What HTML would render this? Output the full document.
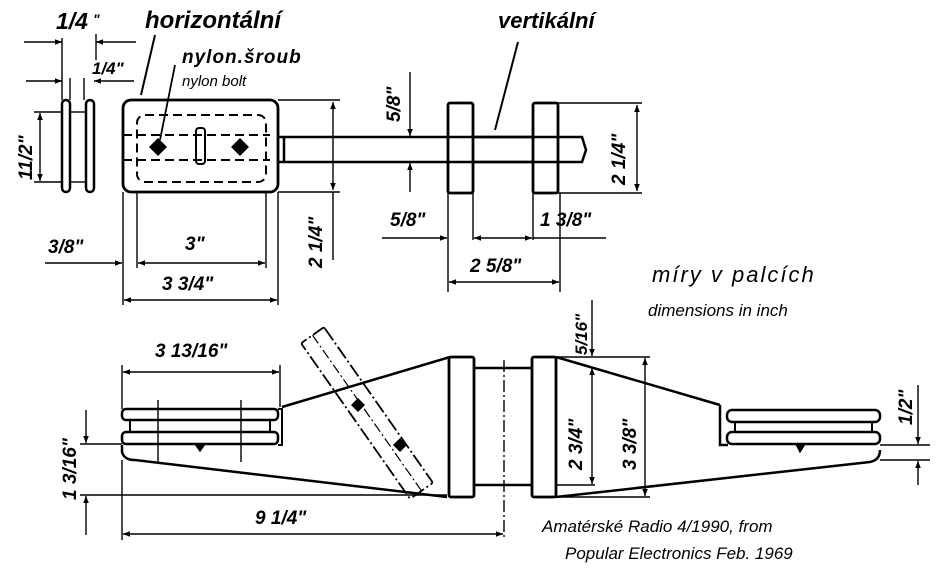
<!DOCTYPE html>
<html><head><meta charset="utf-8"><style>
html,body{margin:0;padding:0;background:#fff;}
svg{display:block}
.t{font-family:"Liberation Sans",sans-serif;font-style:italic;fill:#000}
.b{font-weight:bold}
</style></head><body>
<svg width="937" height="571" viewBox="0 0 937 571" xmlns="http://www.w3.org/2000/svg">
<defs>
<marker id="a" viewBox="0 0 10 10" refX="10" refY="5" markerWidth="11" markerHeight="7" orient="auto-start-reverse" markerUnits="userSpaceOnUse"><path d="M0,1 L10,5 L0,9z" fill="#000"/></marker>
</defs>
<g fill="none" stroke="#000" stroke-width="1.4">
<rect x="62" y="100" width="8" height="92" rx="4" stroke-width="2.5"/>
<rect x="86" y="100" width="8" height="92" rx="4" stroke-width="2.5"/>
<line x1="70" y1="112" x2="86" y2="112"/><line x1="70" y1="182" x2="86" y2="182"/>
<line x1="62" y1="38" x2="62" y2="100"/><line x1="96" y1="34" x2="96" y2="60"/>
<line x1="24" y1="42" x2="62" y2="42" marker-end="url(#a)"/><line x1="136" y1="42" x2="96" y2="42" marker-end="url(#a)"/>
<line x1="70" y1="78" x2="70" y2="100"/><line x1="84" y1="78" x2="84" y2="100"/>
<line x1="26" y1="81" x2="62" y2="81"/><line x1="54" y1="81" x2="62" y2="81" marker-end="url(#a)"/><line x1="134" y1="81" x2="94" y2="81" marker-end="url(#a)"/>
<line x1="34" y1="112" x2="62" y2="112"/><line x1="34" y1="182" x2="62" y2="182"/>
<line x1="40" y1="124" x2="40" y2="113" marker-end="url(#a)"/><line x1="40" y1="124" x2="40" y2="181" marker-end="url(#a)"/>
<rect x="123" y="100" width="155" height="92" rx="8" stroke-width="2.8"/>
<rect x="137" y="115" width="129" height="67" rx="8" stroke-dasharray="9,5" stroke-width="2"/>
<line x1="123" y1="135" x2="270" y2="135" stroke-dasharray="9,5" stroke-width="2"/>
<line x1="123" y1="160" x2="270" y2="160" stroke-dasharray="9,5" stroke-width="2"/>
<rect x="196" y="128" width="9" height="36" rx="3" stroke-width="2"/>
<polyline points="278,137 582,137 586,150 582,162 278,162" stroke-width="2.5"/>
<line x1="284" y1="137" x2="284" y2="162" stroke-width="2.5"/>
<rect x="448" y="103" width="25" height="90" rx="2" stroke-width="2.8" fill="#fff"/>
<rect x="533" y="103" width="25" height="90" rx="2" stroke-width="2.8" fill="#fff"/>
<line x1="448" y1="137" x2="558" y2="137" stroke-width="2.5"/>
<line x1="448" y1="162" x2="558" y2="162" stroke-width="2.5"/>
<line x1="155" y1="35" x2="141" y2="95" stroke-width="2"/>
<line x1="175" y1="65" x2="160" y2="140" stroke-width="1.8"/>
<line x1="518" y1="42" x2="495" y2="130" stroke-width="2"/>
<line x1="278" y1="100" x2="340" y2="100"/><line x1="278" y1="192" x2="340" y2="192"/>
<line x1="333" y1="140" x2="333" y2="102" marker-end="url(#a)"/><line x1="333" y1="140" x2="333" y2="190" marker-end="url(#a)"/>
<line x1="333" y1="192" x2="333" y2="260"/>
<line x1="410" y1="72" x2="410" y2="136" marker-end="url(#a)"/><line x1="410" y1="192" x2="410" y2="163" marker-end="url(#a)"/>
<line x1="558" y1="103" x2="642" y2="103"/><line x1="558" y1="193" x2="642" y2="193"/>
<line x1="637" y1="150" x2="637" y2="105" marker-end="url(#a)"/><line x1="637" y1="150" x2="637" y2="191" marker-end="url(#a)"/>
<line x1="123" y1="192" x2="123" y2="305"/><line x1="278" y1="192" x2="278" y2="305"/>
<line x1="137" y1="192" x2="137" y2="268"/><line x1="266" y1="192" x2="266" y2="268"/>
<line x1="45" y1="263" x2="122" y2="263" marker-end="url(#a)"/>
<line x1="200" y1="263" x2="138" y2="263" marker-end="url(#a)"/><line x1="200" y1="263" x2="265" y2="263" marker-end="url(#a)"/>
<line x1="200" y1="300" x2="124" y2="300" marker-end="url(#a)"/><line x1="200" y1="300" x2="277" y2="300" marker-end="url(#a)"/>
<line x1="448" y1="193" x2="448" y2="292"/><line x1="473" y1="193" x2="473" y2="240"/>
<line x1="533" y1="193" x2="533" y2="240"/><line x1="560" y1="193" x2="560" y2="292"/>
<line x1="382" y1="238" x2="447" y2="238" marker-end="url(#a)"/>
<line x1="500" y1="238" x2="474" y2="238" marker-end="url(#a)"/><line x1="500" y1="238" x2="532" y2="238" marker-end="url(#a)"/>
<line x1="533" y1="238" x2="606" y2="238"/>
<line x1="500" y1="282" x2="449" y2="282" marker-end="url(#a)"/><line x1="500" y1="282" x2="559" y2="282" marker-end="url(#a)"/>
<rect x="122" y="409" width="156" height="11" rx="4" stroke-width="2.5"/>
<rect x="122" y="432" width="156" height="12" rx="4" stroke-width="2.5"/>
<line x1="130" y1="420" x2="130" y2="432" stroke-width="2"/><line x1="270" y1="420" x2="270" y2="432" stroke-width="2"/>
<line x1="158" y1="400" x2="158" y2="462"/><line x1="241" y1="400" x2="241" y2="462"/>
<polyline points="278,409 282,409 282,445 278,445" stroke-width="2"/>
<path d="M122,445 L122,452 Q124,460 135,460 L447,497" stroke-width="2.5"/>
<line x1="282" y1="407" x2="450" y2="357" stroke-width="2.5"/>
<path d="M195,444 L200,451 L205,444" fill="#000"/>
<rect x="449" y="357" width="25" height="140" rx="2" stroke-width="2.8"/>
<line x1="474" y1="368" x2="532" y2="368" stroke-width="2.5"/>
<line x1="474" y1="485" x2="532" y2="485" stroke-width="2.5"/>
<line x1="504" y1="360" x2="504" y2="540" stroke-dasharray="12,3,2,3"/>
<rect x="532" y="357" width="24" height="140" rx="2" stroke-width="2.8"/>
<line x1="556" y1="357" x2="720" y2="405" stroke-width="2.5"/>
<polyline points="720,405 720,445 728,445" stroke-width="2.5"/>
<path d="M556,497 L870,462 Q880,460 880,450" stroke-width="2.5"/>
<rect x="727" y="410" width="153" height="12" rx="5" stroke-width="2.5"/>
<rect x="727" y="432" width="153" height="12" rx="5" stroke-width="2.5"/>
<line x1="735" y1="422" x2="735" y2="432" stroke-width="2"/><line x1="872" y1="422" x2="872" y2="432" stroke-width="2"/>
<path d="M796,444 L800,452 L805,444" fill="#000"/>
<g transform="translate(367,413) rotate(55)">
<rect x="-95" y="-14" width="190" height="28" rx="2" stroke-dasharray="14,3,2,3" stroke-width="1.8"/>
<line x1="-95" y1="0" x2="95" y2="0" stroke-dasharray="10,3,2,3" stroke-width="1.2"/>
</g>
<line x1="122" y1="365" x2="122" y2="409"/><line x1="280" y1="365" x2="280" y2="407"/>
<line x1="200" y1="372" x2="123" y2="372" marker-end="url(#a)"/><line x1="200" y1="372" x2="279" y2="372" marker-end="url(#a)"/>
<line x1="80" y1="444" x2="122" y2="444"/><line x1="80" y1="495" x2="447" y2="495"/>
<line x1="86" y1="410" x2="86" y2="443" marker-end="url(#a)"/><line x1="86" y1="535" x2="86" y2="496" marker-end="url(#a)"/>
<line x1="122" y1="460" x2="122" y2="540"/>
<line x1="300" y1="534" x2="123" y2="534" marker-end="url(#a)"/><line x1="300" y1="534" x2="503" y2="534" marker-end="url(#a)"/>
<line x1="556" y1="357" x2="650" y2="357"/><line x1="556" y1="497" x2="650" y2="497"/>
<line x1="556" y1="485" x2="595" y2="485"/>
<line x1="592" y1="300" x2="592" y2="356" marker-end="url(#a)"/>
<line x1="592" y1="420" x2="592" y2="368" marker-end="url(#a)"/><line x1="592" y1="420" x2="592" y2="484" marker-end="url(#a)"/>
<line x1="645" y1="420" x2="645" y2="358" marker-end="url(#a)"/><line x1="645" y1="420" x2="645" y2="496" marker-end="url(#a)"/>
<line x1="880" y1="445" x2="930" y2="445"/><line x1="880" y1="460" x2="930" y2="460"/>
<line x1="918" y1="385" x2="918" y2="444" marker-end="url(#a)"/><line x1="918" y1="485" x2="918" y2="461" marker-end="url(#a)"/>
</g>
<g fill="#000">
<path d="M158,138 L167,147 L158,156 L149,147z"/><path d="M240,138 L249,147 L240,156 L231,147z"/>
<path d="M358,398 L365,405 L358,412 L351,405z"/><path d="M400,438 L407,445 L400,452 L393,445z"/>
</g>
<g class="t">
<text x="56" y="29" font-size="23" class="b">1/4</text><text x="93" y="24" font-size="14" class="b">"</text>
<text x="145" y="28" font-size="24" class="b">horizontální</text>
<text x="92" y="74" font-size="17" class="b">1/4"</text>
<text x="182" y="63" font-size="19" class="b" letter-spacing="1">nylon.šroub</text>
<text x="182" y="86" font-size="15">nylon bolt</text>
<text x="498" y="28" font-size="22" class="b">vertikální</text>
<text transform="translate(32,180) rotate(-90)" font-size="19" class="b">11/2"</text>
<text transform="translate(400,122) rotate(-90)" font-size="19" class="b">5/8"</text>
<text transform="translate(322,268) rotate(-90)" font-size="19" class="b">2 1/4"</text>
<text transform="translate(625,185) rotate(-90)" font-size="19" class="b">2 1/4"</text>
<text x="48" y="253" font-size="19" class="b">3/8"</text>
<text x="185" y="250" font-size="19" class="b">3"</text>
<text x="162" y="290" font-size="19" class="b">3 3/4"</text>
<text x="390" y="226" font-size="19" class="b">5/8"</text>
<text x="540" y="226" font-size="19" class="b">1 3/8"</text>
<text x="470" y="272" font-size="19" class="b">2 5/8"</text>
<text x="652" y="282" font-size="22" letter-spacing="2">míry v palcích</text>
<text x="648" y="316" font-size="17">dimensions in inch</text>
<text x="155" y="357" font-size="19" class="b">3 13/16"</text>
<text transform="translate(76,500) rotate(-90)" font-size="19" class="b">1 3/16"</text>
<text x="255" y="524" font-size="19" class="b">9 1/4"</text>
<text transform="translate(587,355) rotate(-90)" font-size="17" class="b">5/16"</text>
<text transform="translate(582,470) rotate(-90)" font-size="19" class="b">2 3/4"</text>
<text transform="translate(636,470) rotate(-90)" font-size="19" class="b">3 3/8"</text>
<text transform="translate(912,425) rotate(-90)" font-size="19" class="b">1/2"</text>
<text x="542" y="532" font-size="17">Amatérské Radio 4/1990, from</text>
<text x="565" y="559" font-size="17">Popular Electronics Feb. 1969</text>
</g>
</svg>
</body></html>
